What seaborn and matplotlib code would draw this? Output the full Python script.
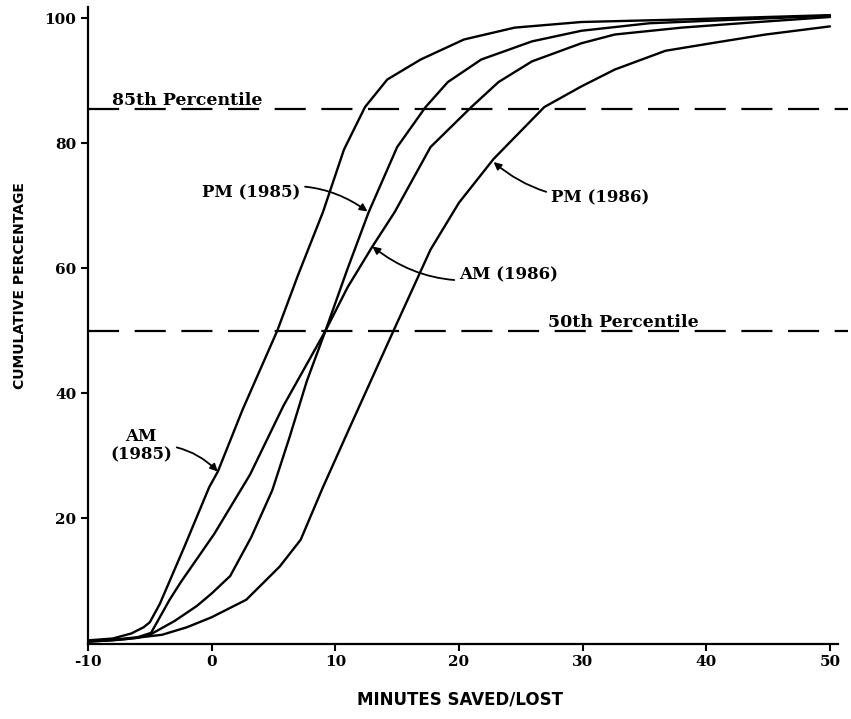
import pandas as pd
import seaborn as sns
import matplotlib.pyplot as plt

# curves (minutes saved/lost vs cumulative %)
am85_x = [-10, -8, -6.5, -5.5, -5, -4.2, -2.2, -0.2, 0.5, 2.5, 5.3, 7, 9, 10.7, 12.4, 14.2, 16.9, 20.4, 24.5, 29.9, 38, 50]
am85_y = [0.5, 0.8, 1.6, 2.6, 3.4, 6.3, 15.5, 25, 27.5, 37.4, 50, 59, 69, 79, 85.8, 90.2, 93.4, 96.6, 98.5, 99.4, 99.8, 100.5]

am86_x = [-10, -8, -6, -4.9, -3.4, -2.5, 0.2, 3.1, 5.8, 9.2, 11, 13, 14.8, 17.7, 21, 23.2, 25.9, 29.9, 32.6, 38, 43.5, 50]
am86_y = [0.4, 0.6, 1.0, 1.7, 7, 9.8, 17.5, 27, 38, 50, 57, 63.5, 69, 79.4, 85.8, 89.8, 93.1, 96, 97.4, 98.5, 99.3, 100.2]

pm85_x = [-10, -8, -6, -4.9, -3, -1.2, 0, 1.5, 3.2, 4.9, 6.3, 7.7, 9.2, 11, 12.7, 15, 17.3, 19.1, 21.8, 25.9, 29.9, 35.4, 50]
pm85_y = [0.3, 0.5, 0.9, 1.5, 3.6, 6, 8, 10.8, 17, 24.5, 33, 42, 50, 60, 69, 79.4, 85.8, 89.8, 93.4, 96.3, 98, 99.2, 100.4]

pm86_x = [-10, -7, -4, -2, 0, 2.8, 5.5, 7.2, 9, 11.2, 14.7, 17.7, 20, 22.8, 26.9, 29.9, 32.6, 36.7, 40.7, 44.8, 50]
pm86_y = [0.3, 0.7, 1.4, 2.6, 4.2, 7, 12.3, 16.6, 25, 34.7, 50, 63, 70.5, 77.5, 85.8, 89.1, 91.8, 94.8, 96.1, 97.4, 98.7]

series = {'AM (1985)': (am85_x, am85_y), 'AM (1986)': (am86_x, am86_y),
          'PM (1985)': (pm85_x, pm85_y), 'PM (1986)': (pm86_x, pm86_y)}

percentiles = [85.5, 50]
pct_labels = ['85th Percentile', '50th Percentile']

x_ticks = [-10, 0, 10, 20, 30, 40, 50]
y_ticks = [20, 40, 60, 80, 100]

rows = []
for name, (xs, ys) in series.items():
    for a, b in zip(xs, ys):
        rows.append((name, a, b))
df = pd.DataFrame(rows, columns=['serie', 'minutos', 'pct'])

sns.set_style('ticks')
plt.rcParams['font.family'] = ['DejaVu Serif']
plt.rcParams['axes.unicode_minus'] = False
for k in ['text.color', 'axes.labelcolor', 'xtick.color', 'ytick.color', 'axes.edgecolor']:
    plt.rcParams[k] = 'black'

fig = plt.figure(figsize=(8.51, 7.19), dpi=100)
ax = fig.add_axes([88 / 851, 1 - 643.5 / 719, 750 / 851, 636.5 / 719])

sns.lineplot(data=df, x='minutos', y='pct', hue='serie', palette=['black'] * 4,
             estimator=None, sort=True, legend=False, lw=1.7, ax=ax)

for p in percentiles:
    ax.axhline(p, xmin=0, xmax=1.013, color='black', lw=1.6, dashes=(14, 7), clip_on=False)

# percentile labels sit on the dashed lines
ax.text(-2.0, 86.2, pct_labels[0], ha='center', va='baseline', fontweight='bold', fontsize=12.5)
ax.text(33.3, 50.6, pct_labels[1], ha='center', va='baseline', fontweight='bold', fontsize=12.5)

txt = dict(fontweight='bold', fontsize=12, color='black')
arrow = dict(arrowstyle='-|>', color='black', lw=1.3, mutation_scale=11, shrinkA=1, shrinkB=0)
ax.annotate('PM (1985)', xy=(12.6, 69.1), xytext=(3.2, 72.1), ha='center', va='center',
            arrowprops=dict(connectionstyle='arc3,rad=-0.25', **arrow), **txt)
ax.annotate('AM (1986)', xy=(13.0, 63.5), xytext=(24.0, 59.0), ha='center', va='center',
            arrowprops=dict(connectionstyle='arc3,rad=-0.25', **arrow), **txt)
ax.annotate('PM (1986)', xy=(22.8, 77.0), xytext=(31.4, 71.2), ha='center', va='center',
            arrowprops=dict(connectionstyle='arc3,rad=-0.2', **arrow), **txt)
ax.annotate('AM\n(1985)', xy=(0.5, 27.5), xytext=(-5.7, 31.6), ha='center', va='center',
            linespacing=1.1,
            arrowprops=dict(connectionstyle='arc3,rad=-0.25', **arrow), **txt)

ax.set_xlim(-10, 50.65)
ax.set_ylim(0, 101.8)
ax.set_xticks(x_ticks)
ax.set_yticks(y_ticks)
ax.tick_params(direction='out', length=5, width=1.5, labelsize=11, colors='black')
for lab in ax.get_xticklabels() + ax.get_yticklabels():
    lab.set_fontweight('bold')
sns.despine(ax=ax)
for s in ['left', 'bottom']:
    ax.spines[s].set_linewidth(1.6)
    ax.spines[s].set_color('black')

ax.set_xlabel('MINUTES SAVED/LOST', family='DejaVu Sans', fontweight='bold', fontsize=12)
ax.set_ylabel('CUMULATIVE PERCENTAGE', family='DejaVu Sans', fontweight='bold', fontsize=10)
ax.xaxis.set_label_coords((460 - 88) / 750, -(700 - 643.5) / 636.5)
ax.yaxis.set_label_coords(-(88 - 20) / 750, (643.5 - 286) / 636.5)
ax.xaxis.label.set_va('center')
ax.yaxis.label.set_va('center')

fig.savefig('out.png', dpi=100)
